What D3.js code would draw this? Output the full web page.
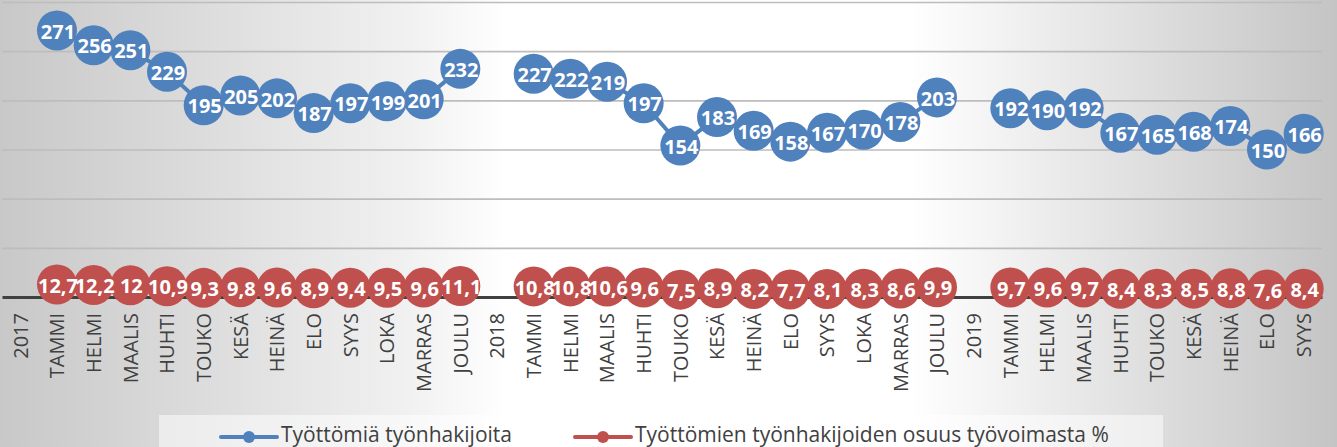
<!DOCTYPE html>
<html>
<head>
<meta charset="utf-8">
<script src="https://cdn.jsdelivr.net/npm/d3@7"></script>
<style>
  html, body { margin: 0; padding: 0; overflow: hidden; }
  svg { display: block; }
</style>
</head>
<body>
<div class="chart"></div>
<script>
// months, with the year as its own empty slot before each year
let categories = [
  "2017", "TAMMI", "HELMI", "MAALIS", "HUHTI", "TOUKO", "KESÄ", "HEINÄ", "ELO", "SYYS", "LOKA", "MARRAS", "JOULU",
  "2018", "TAMMI", "HELMI", "MAALIS", "HUHTI", "TOUKO", "KESÄ", "HEINÄ", "ELO", "SYYS", "LOKA", "MARRAS", "JOULU",
  "2019", "TAMMI", "HELMI", "MAALIS", "HUHTI", "TOUKO", "KESÄ", "HEINÄ", "ELO", "SYYS"
]
// Työttömiä työnhakijoita
let jobseekers = [
  null, 271, 256, 251, 229, 195, 205, 202, 187, 197, 199, 201, 232,
  null, 227, 222, 219, 197, 154, 183, 169, 158, 167, 170, 178, 203,
  null, 192, 190, 192, 167, 165, 168, 174, 150, 166
]
// osuus työvoimasta %
let share = [
  null, 12.7, 12.2, 12, 10.9, 9.3, 9.8, 9.6, 8.9, 9.4, 9.5, 9.6, 11.1,
  null, 10.8, 10.8, 10.6, 9.6, 7.5, 8.9, 8.2, 7.7, 8.1, 8.3, 8.6, 9.9,
  null, 9.7, 9.6, 9.7, 8.4, 8.3, 8.5, 8.8, 7.6, 8.4
]
let gridTicks = [50, 100, 150, 200, 250, 300]
let seriesNames = ["Työttömiä työnhakijoita", "Työttömien työnhakijoiden osuus työvoimasta %"]

let width = 1337
let height = 447
let blue = "#4f81bd"
let red = "#c0504d"
let font = "'Open Sans', 'DejaVu Sans', sans-serif"

let svg = d3.select(".chart")
  .append("svg")
  .attr("width", width)
  .attr("height", height)

let defs = svg.append("defs")
let grad = defs.append("linearGradient")
  .attr("id", "bg")
  .attr("x1", "0%").attr("y1", "0%")
  .attr("x2", "100%").attr("y2", "0%")
grad.selectAll("stop")
  .data([[0, "#c8c8c8"], [0.3, "#f0f0f0"], [0.38, "#ffffff"], [0.68, "#ffffff"], [0.85, "#e0e0e0"], [1, "#c4c4c4"]])
  .enter()
  .append("stop")
  .attr("offset", d => d[0])
  .attr("stop-color", d => d[1])

svg.append("rect")
  .attr("width", width)
  .attr("height", height)
  .attr("fill", "url(#bg)")

// legend box sits on the background
svg.append("rect")
  .attr("x", 159)
  .attr("y", 415)
  .attr("width", 1004)
  .attr("height", 40)
  .attr("fill", "#ffffff")
  .attr("fill-opacity", 0.5)

let x = d3.scaleBand()
  .domain(d3.range(categories.length))
  .range([2, 1322])
let cx = i => x(i) + x.bandwidth() / 2

let y = d3.scaleLinear()
  .domain([0, 300])
  .range([297, 2])

// gridlines
svg.append("g")
  .attr("transform", "translate(2,0)")
  .call(d3.axisLeft(y).tickValues(gridTicks).tickSize(-1320).tickFormat(""))
  .call(g => g.select(".domain").remove())
  .call(g => g.selectAll(".tick line").attr("stroke", "#bdbdbd").attr("stroke-width", 1.6))

// category axis
svg.append("g")
  .attr("transform", `translate(0,${y(0)})`)
  .call(d3.axisBottom(x).tickSize(0).tickFormat(i => categories[i]))
  .call(g => g.select(".domain").attr("stroke", "#404040").attr("stroke-width", 3))
  .call(g => g.selectAll(".tick text")
    .attr("font-family", font)
    .attr("font-size", 20)
    .attr("fill", "#404040")
    .attr("text-anchor", "end")
    .attr("transform", "rotate(-90)")
    .attr("x", -16)
    .attr("y", 0)
    .attr("dy", "0.36em"))

let series = [
  { name: seriesNames[0], values: jobseekers, color: blue },
  { name: seriesNames[1], values: share, color: red }
]

let line = d3.line()
  .defined(d => d != null)
  .x((d, i) => cx(i))
  .y(d => y(d))

svg.selectAll(".series-line")
  .data(series)
  .enter()
  .append("path")
  .attr("class", "series-line")
  .attr("fill", "none")
  .attr("stroke", d => d.color)
  .attr("stroke-width", 4)
  .attr("d", d => line(d.values))

let points = series.map(s => s.values
  .map((v, i) => ({ v: v, i: i, color: s.color }))
  .filter(d => d.v != null))

let allPoints = points[0].concat(points[1])

svg.selectAll(".bubble")
  .data(allPoints)
  .enter()
  .append("circle")
  .attr("class", "bubble")
  .attr("cx", d => cx(d.i))
  .attr("cy", d => y(d.v))
  .attr("r", 20)
  .attr("fill", d => d.color)

svg.selectAll(".val")
  .data(allPoints)
  .enter()
  .append("text")
  .attr("class", "val")
  .attr("x", d => cx(d.i) + 1)
  .attr("y", d => y(d.v) + 1)
  .attr("dy", "0.36em")
  .attr("text-anchor", "middle")
  .attr("font-family", font)
  .attr("font-weight", "bold")
  .attr("font-size", 20)
  .attr("fill", "#ffffff")
  .text(d => String(d.v).replace(".", ","))

// legend
let legendX = [221, 575]
series.forEach((s, k) => {
  let g = svg.append("g").attr("transform", `translate(${legendX[k]},437)`)
  g.append("line")
    .attr("x1", 0).attr("x2", 56)
    .attr("stroke", s.color)
    .attr("stroke-width", 4)
    .attr("stroke-linecap", "round")
  g.append("circle")
    .attr("cx", 28)
    .attr("r", 6)
    .attr("fill", s.color)
  g.append("text")
    .attr("x", 60)
    .attr("y", 5)
    .attr("font-family", font)
    .attr("font-size", 21)
    .attr("fill", "#404040")
    .text(s.name)
})
</script>
</body>
</html>
